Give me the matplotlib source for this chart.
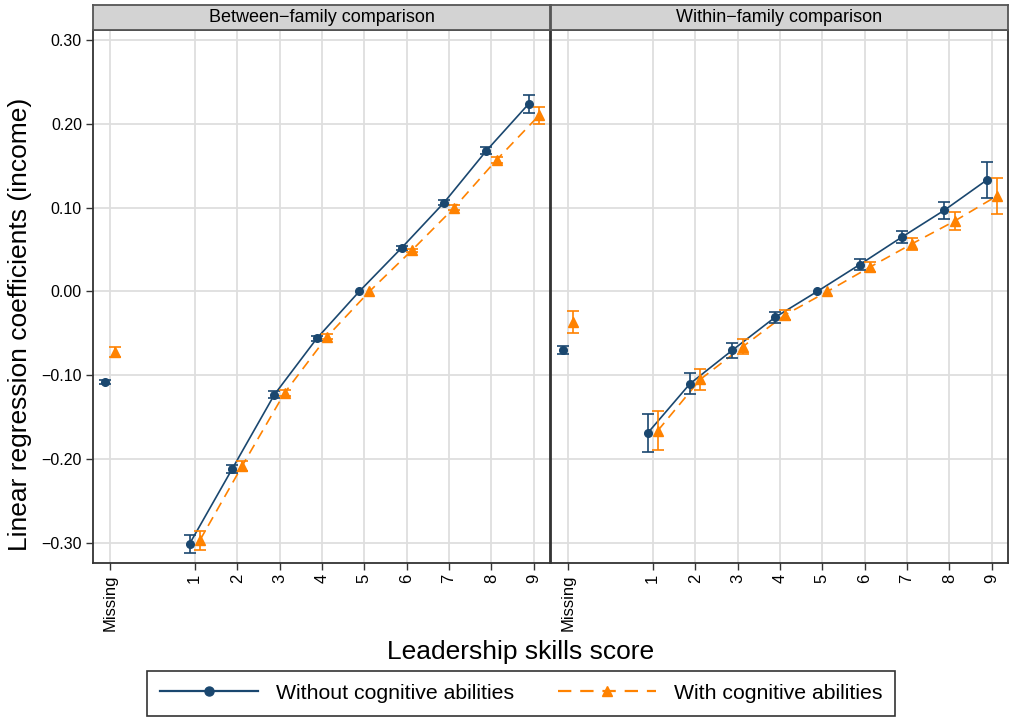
import numpy as np
import matplotlib
matplotlib.use("Agg")
import matplotlib.pyplot as plt
from matplotlib.lines import Line2D

plt.rcParams['font.family'] = ['Liberation Sans', 'DejaVu Sans']

# Leadership score categories (Missing shown left of the numeric scores)
positions = [-1, 1, 2, 3, 4, 5, 6, 7, 8, 9]
tick_labels = ["Missing", "1", "2", "3", "4", "5", "6", "7", "8", "9"]

panel_titles = ["Between\u2212family comparison", "Within\u2212family comparison"]

# Between-family estimates and half-widths of 95% CIs
between_without = [-0.108, -0.301, -0.212, -0.123, -0.056, 0.0, 0.052, 0.106, 0.168, 0.224]
between_without_ci = [0.002, 0.011, 0.005, 0.004, 0.003, 0.0, 0.002, 0.003, 0.004, 0.0105]
between_with = [-0.072, -0.297, -0.208, -0.121, -0.054, 0.0, 0.049, 0.100, 0.157, 0.210]
between_with_ci = [0.006, 0.011, 0.006, 0.004, 0.003, 0.0, 0.002, 0.003, 0.004, 0.0105]

# Within-family estimates and half-widths of 95% CIs
within_without = [-0.070, -0.169, -0.110, -0.070, -0.031, 0.0, 0.032, 0.065, 0.097, 0.133]
within_without_ci = [0.005, 0.023, 0.0127, 0.009, 0.0064, 0.0, 0.0064, 0.0074, 0.0103, 0.021]
within_with = [-0.036, -0.166, -0.105, -0.066, -0.028, 0.0, 0.029, 0.057, 0.084, 0.114]
within_with_ci = [0.013, 0.023, 0.0123, 0.009, 0.006, 0.0, 0.006, 0.007, 0.0107, 0.021]

series_labels = ["Without cognitive abilities", "With cognitive abilities"]
blue = "#1a476f"
orange = "#ff8200"
grid_col = "#dedede"
frame_col = "#333333"

W, H = 1010, 717
fig = plt.figure(figsize=(W / 100, H / 100), dpi=100)

px_left = [93, 551]
px_width = 457
px_top, px_bottom = 30, 563

dodge = 0.12


def draw_series(ax, x, y, ci, color, marker, ms, ls, dashes=None):
    x = np.asarray(x, float)
    y = np.asarray(y, float)
    ci = np.asarray(ci, float)
    line_mask = x > 0
    kw = dict(color=color, lw=1.2, zorder=3)
    if dashes is not None:
        ax.plot(x[line_mask], y[line_mask], ls=ls, dashes=dashes, **kw)
    else:
        ax.plot(x[line_mask], y[line_mask], ls=ls, **kw)
    has_ci = ci > 0
    ax.errorbar(x[has_ci], y[has_ci], yerr=ci[has_ci], fmt="none", ecolor=color,
                elinewidth=1.2, capsize=4.5, capthick=1.2, zorder=4)
    ax.plot(x, y, ls="none", marker=marker, ms=ms, color=color,
            markeredgecolor=color, zorder=5)


panels = [
    (between_without, between_without_ci, between_with, between_with_ci),
    (within_without, within_without_ci, within_with, within_with_ci),
]

yticks = [-0.3, -0.2, -0.1, 0.0, 0.1, 0.2, 0.3]

for i, (yw, cw, yc, cc) in enumerate(panels):
    ax = fig.add_axes([px_left[i] / W, (H - px_bottom) / H, px_width / W,
                       (px_bottom - px_top) / H])
    pos = np.asarray(positions, float)
    draw_series(ax, pos - dodge, yw, cw, blue, "o", 5.5, "-")
    draw_series(ax, pos + dodge, yc, cc, orange, "^", 6.5, "--", dashes=(6, 4))

    ax.set_xlim(-1.4, 9.38)
    ax.set_ylim(-0.324, 0.312)
    ax.set_xticks(positions)
    ax.set_xticklabels(tick_labels, rotation=90, fontsize=12)
    ax.set_yticks(yticks)
    if i == 0:
        ax.set_yticklabels([f"{v:.2f}".replace("-", "\u2212") for v in yticks],
                           fontsize=11.5)
        ax.tick_params(axis="y", length=5, width=1, color=frame_col, pad=3)
    else:
        ax.tick_params(axis="y", left=False, labelleft=False)
    ax.tick_params(axis="x", length=5, width=1, color=frame_col, pad=3)
    ax.grid(True, color=grid_col, lw=1.3, zorder=0)
    ax.set_axisbelow(True)
    for s in ax.spines.values():
        s.set_color(frame_col)
        s.set_linewidth(1.3)

    # facet strip
    sax = fig.add_axes([px_left[i] / W, (H - px_top) / H, px_width / W, 25 / H])
    sax.set_facecolor("#d3d3d3")
    sax.set_xticks([])
    sax.set_yticks([])
    for s in sax.spines.values():
        s.set_color("#555555")
        s.set_linewidth(1.3)
    sax.text(0.5, 0.5, panel_titles[i], ha="center", va="center", fontsize=13,
             transform=sax.transAxes)

fig.text(20 / W, 1 - 324 / H, "Linear regression coefficients (income)", rotation=90,
         ha="center", va="center", fontsize=19)
fig.text(521 / W, 1 - 652 / H, "Leadership skills score", ha="center", va="center",
         fontsize=19)

handles = [
    Line2D([], [], color=blue, lw=1.6, marker="o", ms=6.5),
    Line2D([], [], color=orange, lw=1.6, ls=(0, (6, 4)), marker="^", ms=7.5),
]
leg = fig.legend(handles, series_labels, loc="upper center", ncol=2,
                 bbox_to_anchor=(521 / W, 1 - 671 / H), fontsize=15.3,
                 frameon=True, fancybox=False, edgecolor="black",
                 handlelength=4.6, handletextpad=0.85, columnspacing=2.07,
                 borderpad=0.6, borderaxespad=0)
leg.get_frame().set_linewidth(1.2)

fig.savefig("out.png", dpi=100)
